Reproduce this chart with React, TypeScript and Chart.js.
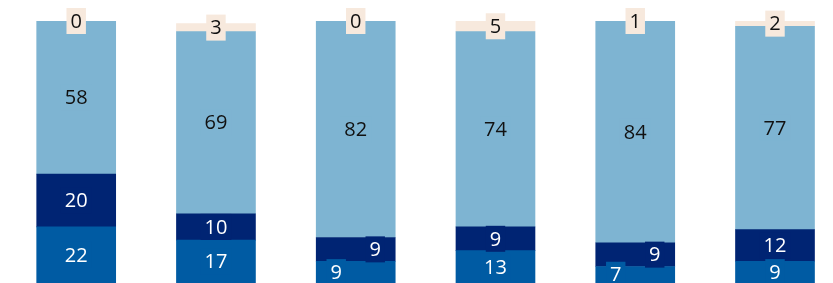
import React, { useEffect, useRef } from "react";
import { Chart, registerables } from "chart.js";

Chart.register(...registerables);

const categories = ["A", "B", "C", "D", "E", "F"];
const seriesBottom = [22, 17, 9, 13, 7, 9];
const seriesNavy = [20, 10, 9, 9, 9, 12];
const seriesLight = [58, 69, 82, 74, 84, 77];
const seriesTop = [0, 3, 0, 5, 1, 2];

const COLORS = ["#005ba3", "#002473", "#7eb4d2", "#f7e9dd"];
const TEXT_COLORS = ["#ffffff", "#ffffff", "#111111", "#111111"];

const FONT = '20px "Open Sans", sans-serif';
const BOX_H = 26;
const BOX_PAD = 4;
const SHIFT = 19.5;

const labelPlugin = {
  id: "segLabels",
  afterDatasetsDraw(chart: any) {
    const ctx = chart.ctx;
    const area = chart.chartArea;
    ctx.save();
    ctx.font = FONT;
    ctx.textAlign = "center";
    ctx.textBaseline = "middle";
    const nDs = chart.data.datasets.length;
    for (let i = 0; i < categories.length; i++) {
      const items: any[] = [];
      for (let d = 0; d < nDs; d++) {
        const meta = chart.getDatasetMeta(d);
        const el = meta.data[i];
        const top = Math.max(Math.min(el.y, el.base), area.top);
        const bot = Math.min(Math.max(el.y, el.base), area.bottom);
        items.push({
          d,
          x: el.x,
          y: (top + bot) / 2,
          value: chart.data.datasets[d].data[i].y,
        });
      }
      // avoid collision between the two bottom labels
      if (Math.abs(items[0].y - items[1].y) < BOX_H) {
        items[0].x -= SHIFT;
        items[1].x += SHIFT;
      }
      for (const it of items) {
        const txt = String(it.value);
        const w = ctx.measureText(txt).width + BOX_PAD * 2;
        ctx.fillStyle = COLORS[it.d];
        ctx.fillRect(it.x - w / 2, it.y - BOX_H / 2, w, BOX_H);
        ctx.fillStyle = TEXT_COLORS[it.d];
        ctx.fillText(txt, it.x, it.y + 1);
      }
    }
    ctx.restore();
  },
};

export default function App() {
  const ref = useRef<HTMLCanvasElement | null>(null);
  useEffect(() => {
    if (!ref.current) return;
    const mk = (arr: number[]) => arr.map((v, i) => ({ x: i, y: v }));
    const series = [seriesBottom, seriesNavy, seriesLight, seriesTop];
    const chart = new Chart(ref.current, {
      type: "bar",
      data: {
        datasets: series.map((s, k) => ({
          label: "s" + k,
          data: mk(s),
          backgroundColor: COLORS[k],
          borderWidth: 0,
          barThickness: 79,
          clip: 0,
        })),
      },
      options: {
        responsive: false,
        animation: false,
        devicePixelRatio: 1,
        layout: { padding: { top: 21, left: 0, right: 0, bottom: 0 } },
        plugins: {
          legend: { display: false },
          tooltip: { enabled: false },
        },
        scales: {
          x: {
            type: "linear",
            stacked: true,
            display: false,
            offset: false,
            min: -0.5452,
            max: 5.415,
            grid: { display: false, offset: false },
          },
          y: {
            stacked: true,
            display: false,
            min: 0.76,
            max: 100,
            grid: { display: false },
          },
        },
      },
      plugins: [labelPlugin],
    } as any);
    return () => chart.destroy();
  }, []);
  return (
    <div style={{ position: "absolute", left: 0, top: 0, width: 833, height: 283, background: "#fff" }}>
      <canvas ref={ref} width={833} height={283} style={{ display: "block" }} />
    </div>
  );
}
